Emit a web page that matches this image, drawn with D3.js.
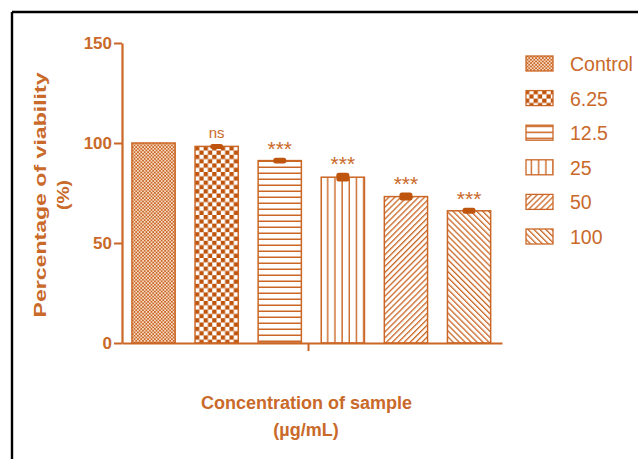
<!DOCTYPE html>
<html>
<head>
<meta charset="utf-8">
<script src="https://cdn.jsdelivr.net/npm/d3@7"></script>
<style>
  html, body { margin: 0; padding: 0; background: #fff; }
  svg { display: block; }
</style>
</head>
<body>
<svg id="chart" width="638" height="459"></svg>
<script>
// ---- data ----
const categories = ["Control", "6.25", "12.5", "25", "50", "100"];
const viability = [100, 98.3, 91.2, 82.9, 73.2, 66.1];
const sdValues = [0, 1.0, 1.4, 2.2, 2.0, 1.5];
const sigLabels = ["", "ns", "***", "***", "***", "***"];
const patternTypes = ["fine", "checker", "hlines", "vlines", "diagUp", "diagDown"];
const yTicks = [0, 50, 100, 150];

// ---- styles ----
const orange = "#cb6726";
const dark = "#bf540d";
const textCol = "#c9692a";
const font = "'Liberation Sans', Arial, Helvetica, sans-serif";

const svg = d3.select("#chart");

// frame
svg.append("line").attr("x1", 12).attr("x2", 638).attr("y1", 12).attr("y2", 12)
  .attr("stroke", "#000").attr("stroke-width", 2.4);
svg.append("line").attr("x1", 12).attr("x2", 12).attr("y1", 12).attr("y2", 459)
  .attr("stroke", "#000").attr("stroke-width", 2.4);

const x = d3.scaleBand().domain(categories).range([122, 500.6])
  .paddingInner(0.315).paddingOuter(0.1575);
const y = d3.scaleLinear().domain([0, 150]).range([343, 43]);

const defs = svg.append("defs");

function makePattern(id, type, ox, oy) {
  let p;
  if (type === "fine") {
    p = defs.append("pattern").attr("id", id).attr("patternUnits", "userSpaceOnUse")
      .attr("x", ox).attr("y", oy).attr("width", 3.4).attr("height", 3.4);
    p.append("rect").attr("width", 3.4).attr("height", 3.4).attr("fill", "#f6dcc6");
    p.append("rect").attr("width", 1.7).attr("height", 1.7).attr("fill", orange);
    p.append("rect").attr("x", 1.7).attr("y", 1.7).attr("width", 1.7).attr("height", 1.7).attr("fill", orange);
  } else if (type === "checker") {
    const c = 4.3;
    p = defs.append("pattern").attr("id", id).attr("patternUnits", "userSpaceOnUse")
      .attr("x", ox).attr("y", oy).attr("width", 2 * c).attr("height", 2 * c);
    p.append("rect").attr("width", 2 * c).attr("height", 2 * c).attr("fill", "#fff");
    p.append("rect").attr("width", c).attr("height", c).attr("fill", dark);
    p.append("rect").attr("x", c).attr("y", c).attr("width", c).attr("height", c).attr("fill", dark);
  } else if (type === "hlines") {
    const s = 6;
    p = defs.append("pattern").attr("id", id).attr("patternUnits", "userSpaceOnUse")
      .attr("x", ox).attr("y", oy).attr("width", s).attr("height", s);
    p.append("rect").attr("width", s).attr("height", s).attr("fill", "#fff");
    p.append("rect").attr("x", 0).attr("y", s - 1.5).attr("width", s).attr("height", 1.5).attr("fill", orange);
  } else if (type === "vlines") {
    const s = 7.2;
    p = defs.append("pattern").attr("id", id).attr("patternUnits", "userSpaceOnUse")
      .attr("x", ox).attr("y", oy).attr("width", s).attr("height", s);
    p.append("rect").attr("width", s).attr("height", s).attr("fill", "#fff");
    p.append("rect").attr("x", s - 1.4).attr("y", 0).attr("width", 1.4).attr("height", s).attr("fill", orange);
  } else {
    const s = 4.2;
    p = defs.append("pattern").attr("id", id).attr("patternUnits", "userSpaceOnUse")
      .attr("x", ox).attr("y", oy).attr("width", s).attr("height", s)
      .attr("patternTransform", type === "diagUp" ? "rotate(45)" : "rotate(-45)");
    p.append("rect").attr("width", s).attr("height", s).attr("fill", "#fff");
    p.append("rect").attr("x", 0).attr("y", 0).attr("width", 1.3).attr("height", s).attr("fill", orange);
  }
}

categories.forEach((c, i) => {
  makePattern("pb" + i, patternTypes[i], x(c), 0);
  makePattern("pl" + i, patternTypes[i], 525, 0);
});

// bars
svg.append("g").selectAll("rect").data(categories).join("rect")
  .attr("x", d => x(d))
  .attr("y", (d, i) => y(viability[i]))
  .attr("width", x.bandwidth())
  .attr("height", (d, i) => y(0) - y(viability[i]))
  .attr("fill", (d, i) => `url(#pb${i})`)
  .attr("stroke", orange)
  .attr("stroke-width", 1.5);

// error bars
svg.append("g").selectAll("rect").data(categories.filter((d, i) => sdValues[i] > 0)).join("rect")
  .attr("x", d => x(d) + x.bandwidth() / 2 - 6.5)
  .attr("y", d => { const i = categories.indexOf(d); return Math.min(y(viability[i] + sdValues[i]), y(viability[i]) - 2.5); })
  .attr("width", 13)
  .attr("height", d => { const i = categories.indexOf(d); return Math.max(5, y(viability[i] - sdValues[i]) - y(viability[i] + sdValues[i])); })
  .attr("rx", 2.5)
  .attr("fill", dark);

// significance labels
svg.append("g").selectAll("text").data(categories).join("text")
  .attr("x", d => x(d) + x.bandwidth() / 2)
  .attr("y", (d, i) => y(viability[i] + sdValues[i]) - (sigLabels[i] === "ns" ? 6 : 2))
  .attr("text-anchor", "middle")
  .attr("font-family", font)
  .attr("font-size", (d, i) => sigLabels[i] === "ns" ? 15 : 21)
  .attr("fill", textCol)
  .text((d, i) => sigLabels[i]);

// y axis
const yAxis = svg.append("g").attr("transform", "translate(122,0)")
  .call(d3.axisLeft(y).tickValues(yTicks).tickSize(8).tickPadding(2).tickSizeOuter(0));
yAxis.select(".domain").attr("stroke", orange).attr("stroke-width", 2.2);
yAxis.selectAll(".tick line").attr("stroke", orange).attr("stroke-width", 2);
yAxis.selectAll(".tick text").attr("fill", textCol).attr("font-family", font)
  .attr("font-size", 17).attr("font-weight", "bold");

// x axis
const xMid = d3.scaleLinear().domain([0, 1]).range([122, 502]);
const xAxis = svg.append("g").attr("transform", "translate(0,343)")
  .call(d3.axisBottom(xMid).tickValues([0.4895]).tickSize(8).tickSizeOuter(0).tickFormat(""));
xAxis.select(".domain").attr("stroke", orange).attr("stroke-width", 2.2);
xAxis.selectAll(".tick line").attr("stroke", orange).attr("stroke-width", 2);

// y label
svg.append("text")
  .attr("transform", "translate(46,195) rotate(-90)")
  .attr("text-anchor", "middle")
  .attr("font-family", font).attr("font-size", 17).attr("font-weight", "bold")
  .attr("fill", textCol)
  .attr("textLength", 245).attr("lengthAdjust", "spacingAndGlyphs")
  .text("Percentage of viability");
svg.append("text")
  .attr("transform", "translate(69,195) rotate(-90)")
  .attr("text-anchor", "middle")
  .attr("font-family", font).attr("font-size", 17).attr("font-weight", "bold")
  .attr("fill", textCol)
  .attr("textLength", 30).attr("lengthAdjust", "spacingAndGlyphs")
  .text("(%)");

// x label
svg.append("text").attr("x", 306.5).attr("y", 409).attr("text-anchor", "middle")
  .attr("font-family", font).attr("font-size", 18).attr("font-weight", "bold")
  .attr("fill", textCol).text("Concentration of sample");
svg.append("text").attr("x", 306).attr("y", 436).attr("text-anchor", "middle")
  .attr("font-family", font).attr("font-size", 18).attr("font-weight", "bold")
  .attr("fill", textCol).text("(µg/mL)");

// legend
const legend = svg.append("g").selectAll("g").data(categories).join("g")
  .attr("transform", (d, i) => `translate(0,${64 + i * 34.6})`);
legend.append("rect")
  .attr("x", 526).attr("y", -8).attr("width", 27).attr("height", 15)
  .attr("fill", (d, i) => `url(#pl${i})`)
  .attr("stroke", orange).attr("stroke-width", 1.3);
legend.append("text")
  .attr("x", 570).attr("y", 7)
  .attr("font-family", font).attr("font-size", 19.5)
  .attr("fill", textCol)
  .text(d => d);
</script>
</body>
</html>
